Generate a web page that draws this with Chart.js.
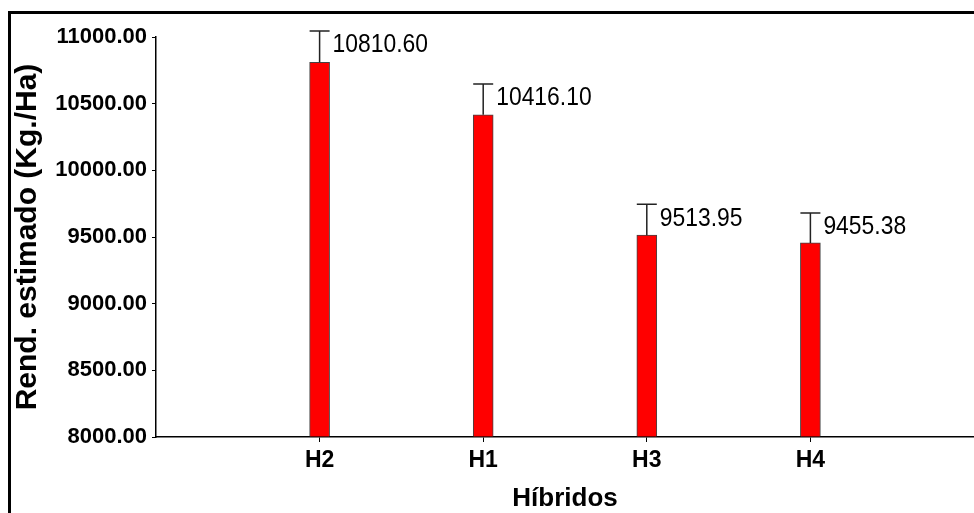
<!DOCTYPE html>
<html>
<head>
<meta charset="utf-8">
<script src="https://cdn.jsdelivr.net/npm/chart.js@4"></script>
<style>
    body { margin: 0; background: #fff; }
    #frame
    {
        position: absolute; left: 8px; top: 11px;
        width: 963px; height: 499px;
        border-top: 3px solid #000; border-left: 3px solid #000;
    }
</style>
</head>
<body>
<div id="frame"><canvas id="chart" width="963" height="499"></canvas></div>
<script>
"use strict"

const hibridos = ['H2', 'H1', 'H3', 'H4'];
const rendimiento = [10810.60, 10416.10, 9513.95, 9455.38];
const errores = [235, 231, 231, 225];
const yMin = 8000, yMax = 11000, yStep = 500;

const FONT = '"Liberation Sans", Arial, sans-serif';

const errorBars =
{
    id: 'errorBars',
    afterDatasetsDraw(chart)
    {
        const ctx = chart.ctx;
        const yScale = chart.scales.y;
        const bars = chart.getDatasetMeta(0).data;
        ctx.save();
        bars.forEach((bar, i) =>
        {
            const top = yScale.getPixelForValue(rendimiento[i] + errores[i]);
            ctx.strokeStyle = '#222';
            ctx.lineWidth = 1.5;
            ctx.beginPath();
            ctx.moveTo(bar.x, bar.y);
            ctx.lineTo(bar.x, top);
            ctx.moveTo(bar.x - 10, top);
            ctx.lineTo(bar.x + 10, top);
            ctx.stroke();

            ctx.save();
            ctx.translate(bar.x + 13, top + 14);
            ctx.scale(0.88, 1);
            ctx.fillStyle = '#000';
            ctx.font = '26px ' + FONT;
            ctx.textAlign = 'left';
            ctx.textBaseline = 'middle';
            ctx.fillText(rendimiento[i].toFixed(2), 0, 0);
            ctx.restore();
        });
        ctx.restore();
    }
};

window.onload = () =>
{
    const data =
    {
        datasets: [{
                    data: hibridos.map((h, i) => ({ x: i + 1, y: rendimiento[i] })),
                    base: yMin,
                    backgroundColor: '#ff0000',
                    borderColor: '#444',
                    borderWidth: 1,
                    barThickness: 20,
                    clip: false
                  }]
    };

    const config =
    {
        type: 'bar',
        data: data,
        plugins: [errorBars],
        options:
        {
            responsive: false,
            animation: false,
            layout: { padding: { top: 23, right: 0, left: 0, bottom: 0 } },
            plugins:
            {
                legend: { display: false },
                tooltip: { enabled: false }
            },
            scales:
            {
                x:
                {
                    type: 'linear',
                    min: 0,
                    max: hibridos.length + 1,
                    offset: false,
                    afterBuildTicks: (scale) => { scale.ticks = hibridos.map((h, i) => ({ value: i + 1 })); },
                    afterFit: (scale) => { scale.height = 76; },
                    border: { display: true, color: '#000', width: 1.5 },
                    grid: { drawOnChartArea: false, offset: false, tickLength: 5, color: '#000' },
                    ticks:
                    {
                        callback: (v) => hibridos[v - 1],
                        color: '#000',
                        padding: 5,
                        maxRotation: 0,
                        autoSkip: false,
                        font: { family: FONT, size: 23, weight: 'bold' }
                    },
                    title:
                    {
                        display: true,
                        text: 'Híbridos',
                        color: '#000',
                        padding: { top: 0, bottom: 1 },
                        font: { family: FONT, size: 26, weight: 'bold', lineHeight: 1 }
                    }
                },
                y:
                {
                    min: yMin,
                    max: yMax,
                    afterFit: (scale) => { scale.width = 145; },
                    border: { display: true, color: '#000', width: 1.5 },
                    grid: { drawOnChartArea: false, tickLength: 4, color: '#000' },
                    ticks:
                    {
                        stepSize: yStep,
                        callback: (v) => v.toFixed(2),
                        color: '#000',
                        padding: 5,
                        font: { family: FONT, size: 22, weight: 'bold' }
                    },
                    title:
                    {
                        display: true,
                        text: 'Rend. estimado (Kg./Ha)',
                        color: '#000',
                        padding: { top: 2, bottom: 0 },
                        font: { family: FONT, size: 30, weight: 'bold', lineHeight: 1 }
                    }
                }
            }
        }
    };

    new Chart(document.getElementById('chart').getContext('2d'), config);
}
</script>
</body>
</html>
